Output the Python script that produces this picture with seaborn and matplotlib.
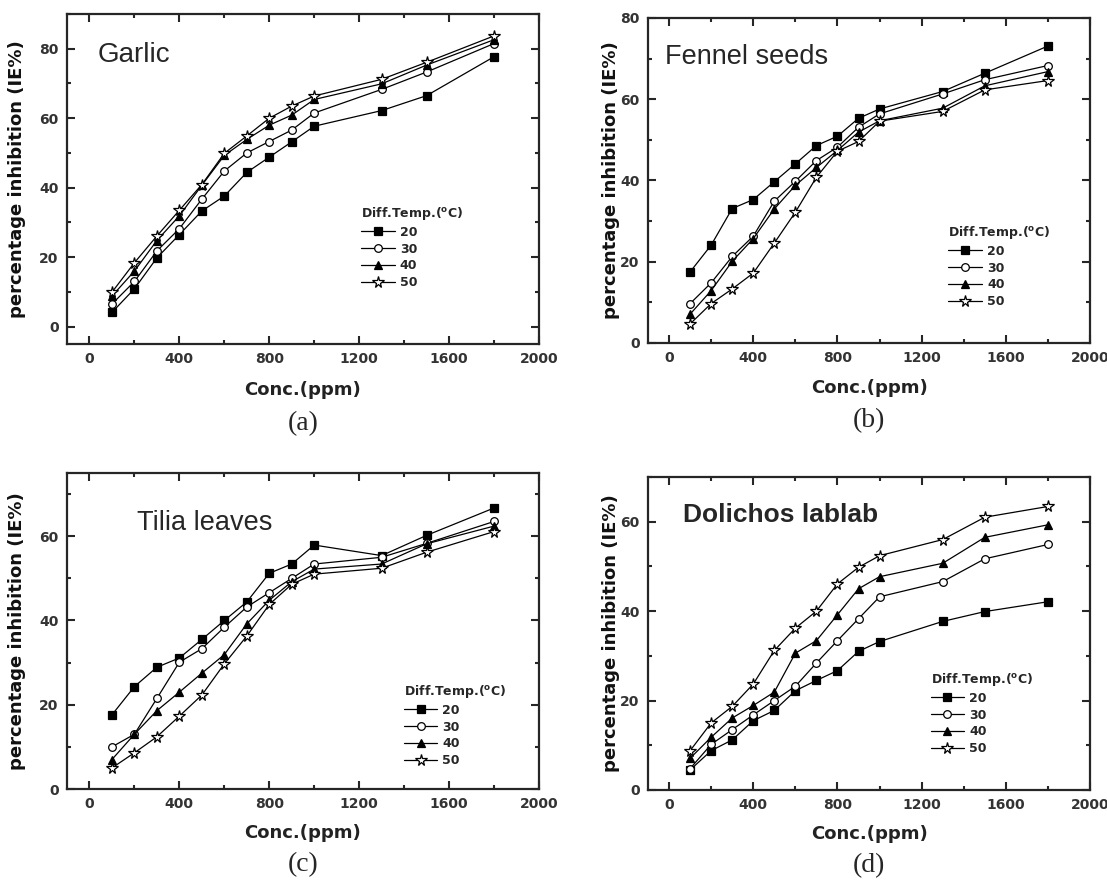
import matplotlib
matplotlib.use("Agg")
import matplotlib.pyplot as plt
import pandas as pd
import seaborn as sns
from matplotlib.ticker import AutoMinorLocator, MultipleLocator

# concentrations (ppm) shared by all panels
conc = [100, 200, 300, 400, 500, 600, 700, 800, 900, 1000, 1300, 1500, 1800]
temps = ["20", "30", "40", "50"]

garlic_20 = [4.1, 10.9, 19.8, 26.5, 33.3, 37.6, 44.4, 48.8, 53.2, 57.7, 62.2, 66.5, 77.7]
garlic_30 = [6.5, 13.0, 21.8, 28.2, 36.7, 44.8, 50.0, 53.3, 56.6, 61.5, 68.3, 73.3, 81.5]
garlic_40 = [8.8, 16.0, 24.8, 31.9, 40.7, 49.3, 53.9, 58.0, 60.9, 65.4, 69.9, 75.3, 82.6]
garlic_50 = [9.9, 18.4, 26.1, 33.5, 40.9, 49.9, 54.9, 60.0, 63.5, 66.4, 71.2, 76.1, 83.7]

fennel_20 = [17.5, 24.1, 33.1, 35.3, 39.7, 44.1, 48.6, 50.9, 55.3, 57.6, 61.9, 66.4, 73.1]
fennel_30 = [9.7, 14.8, 21.3, 26.3, 34.9, 39.8, 44.9, 48.2, 53.1, 56.4, 61.3, 64.8, 68.3]
fennel_40 = [7.1, 12.9, 20.1, 25.7, 33.0, 38.8, 43.2, 47.4, 51.9, 54.7, 57.8, 63.3, 66.8]
fennel_50 = [4.7, 9.7, 13.3, 17.2, 24.6, 32.2, 40.8, 47.2, 49.6, 54.6, 57.0, 62.3, 64.6]

tilia_20 = [17.6, 24.3, 28.9, 31.1, 35.5, 40.0, 44.4, 51.2, 53.4, 57.9, 55.4, 60.2, 66.7]
tilia_30 = [10.0, 13.0, 21.5, 30.1, 33.3, 38.4, 43.2, 46.6, 50.0, 53.4, 55.0, 58.3, 63.5]
tilia_40 = [7.0, 13.0, 18.6, 23.0, 27.5, 31.9, 39.2, 44.8, 49.2, 52.2, 53.4, 58.2, 62.4]
tilia_50 = [5.0, 8.6, 12.4, 17.3, 22.3, 29.7, 36.3, 43.8, 48.6, 51.0, 52.4, 56.2, 61.1]

dolichos_20 = [4.5, 8.8, 11.2, 15.5, 17.8, 22.2, 24.5, 26.7, 31.0, 33.2, 37.7, 39.9, 42.1]
dolichos_30 = [4.8, 10.2, 13.5, 16.8, 20.0, 23.2, 28.4, 33.4, 38.3, 43.2, 46.6, 51.7, 54.9]
dolichos_40 = [7.1, 11.8, 16.1, 18.9, 21.9, 30.6, 33.4, 39.2, 45.0, 47.7, 50.7, 56.5, 59.3]
dolichos_50 = [8.8, 15.0, 18.7, 23.7, 31.2, 36.2, 40.0, 46.1, 49.8, 52.4, 56.0, 61.0, 63.4]

panel_names = ["Garlic", "Fennel seeds", "Tilia leaves", "Dolichos lablab"]
captions = ["(a)", "(b)", "(c)", "(d)"]
panel_series = [
    [garlic_20, garlic_30, garlic_40, garlic_50],
    [fennel_20, fennel_30, fennel_40, fennel_50],
    [tilia_20, tilia_30, tilia_40, tilia_50],
    [dolichos_20, dolichos_30, dolichos_40, dolichos_50],
]

sns.set_style("ticks")
plt.rcParams["font.family"] = ["DejaVu Sans"]

# marker, face colour per temperature
styles = {"20": ("s", "black"), "30": ("o", "white"), "40": ("^", "black"), "50": ("*", "white")}

# axes rectangles [left, bottom, width, height] in figure fractions
rects = [
    [0.0605, 0.6095, 0.4264, 0.3746],
    [0.5854, 0.6107, 0.3993, 0.3689],
    [0.0605, 0.1044, 0.4264, 0.3587],
    [0.5854, 0.1033, 0.3993, 0.3553],
]
ylims = [(-5, 90), (0, 80), (0, 75), (0, 70)]
name_pos = [(0.064, 0.876), (0.038, 0.88), (0.148, 0.842), (0.079, 0.879)]
name_size = [20, 19.5, 19.5, 19]
legend_pos = [(0.61, 0.44), (0.665, 0.385), (0.70, 0.355), (0.625, 0.40)]
ylabel_x = [-0.087, -0.063, -0.087, -0.063]

fig = plt.figure(figsize=(11.07, 8.81), dpi=100)

for i in range(4):
    ax = fig.add_axes(rects[i])
    df = pd.DataFrame({"conc": conc * 4,
                       "ie": sum(panel_series[i], []),
                       "temp": sum([[t] * len(conc) for t in temps], [])})
    for t in temps:
        sub = df[df["temp"] == t]
        marker, face = styles[t]
        sns.lineplot(data=sub, x="conc", y="ie", ax=ax, color="black", lw=0.9,
                     marker=marker, markersize=8.5 if marker == "*" else 5.5,
                     markerfacecolor=face, markeredgecolor="black",
                     markeredgewidth=0.9, label=t)

    ax.set_xlim(-100, 2000)
    ax.set_ylim(*ylims[i])
    ax.xaxis.set_major_locator(MultipleLocator(400))
    ax.xaxis.set_minor_locator(AutoMinorLocator(2))
    ax.yaxis.set_major_locator(MultipleLocator(20))
    ax.yaxis.set_minor_locator(AutoMinorLocator(2))
    ax.tick_params(which="both", direction="in", top=True, right=True, width=1.5,
                   labelsize=10, labelcolor="#333333", pad=6)
    ax.tick_params(which="major", length=6)
    ax.tick_params(which="minor", length=3)
    for lab in ax.get_xticklabels() + ax.get_yticklabels():
        lab.set_fontweight("bold")
    for sp in ax.spines.values():
        sp.set_linewidth(1.6)
        sp.set_visible(True)

    ax.set_xlabel("Conc.(ppm)", fontsize=13, fontweight="bold", color="#222222")
    ax.xaxis.set_label_coords(0.5, -0.112)
    ax.set_ylabel("percentage inhibition (IE%)", fontsize=13, fontweight="bold", color="#111111")
    ax.yaxis.set_label_coords(ylabel_x[i], 0.5)

    ax.text(name_pos[i][0], name_pos[i][1], panel_names[i], transform=ax.transAxes,
            fontsize=name_size[i], va="center", ha="left",
            family=["Liberation Sans", "DejaVu Sans"],
            fontweight="bold" if i == 3 else "normal")

    ax.legend(title=r"Diff.Temp.($^\mathregular{o}$C)", loc="upper left",
              bbox_to_anchor=legend_pos[i], frameon=False,
              prop={"size": 9, "weight": "bold"},
              title_fontproperties={"size": 9, "weight": "bold"},
              handlelength=2.7, handletextpad=0.4, labelspacing=0.3,
              borderpad=0, alignment="left")

    ax.text(0.5, -0.24, captions[i], transform=ax.transAxes,
            fontsize=20, ha="center", va="center", family=["Liberation Serif", "DejaVu Serif"])

fig.savefig("out.png", dpi=100)
